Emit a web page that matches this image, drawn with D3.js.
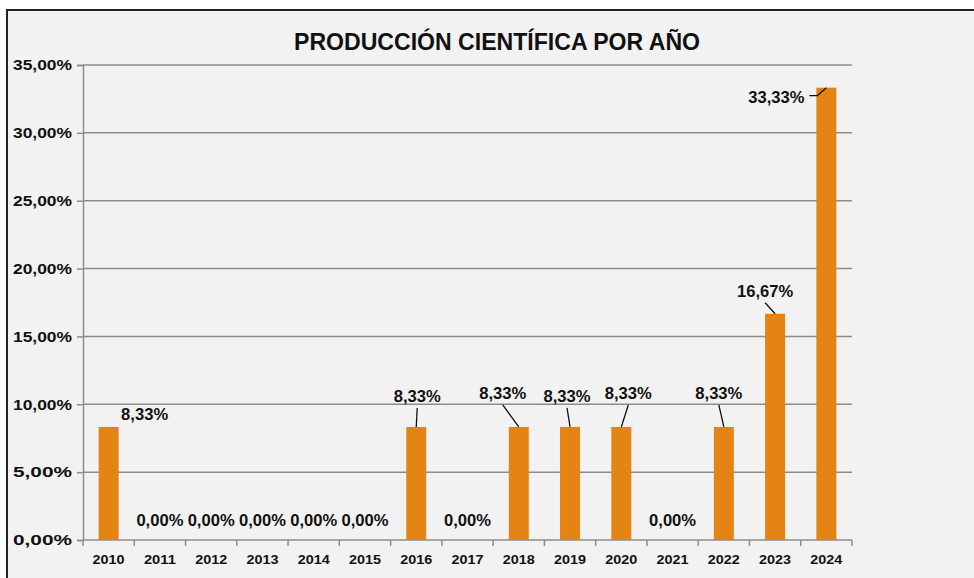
<!DOCTYPE html>
<html>
<head>
<meta charset="utf-8">
<script src="https://cdn.jsdelivr.net/npm/d3@7"></script>
<style>
  body { margin: 0; background: #fff; }
  text { font-family: "Liberation Sans", Arial, sans-serif; font-weight: bold; fill: #111; }
</style>
</head>
<body>
<div id="chart"></div>
<script>
// data
var years = ["2010","2011","2012","2013","2014","2015","2016","2017","2018","2019","2020","2021","2022","2023","2024"];
var values = [8.33, 0, 0, 0, 0, 0, 8.33, 0, 8.33, 8.33, 8.33, 0, 8.33, 16.67, 33.33];
var yTicks = [0, 5, 10, 15, 20, 25, 30, 35];

// where each data label sits, relative to the bar top (pixels); null = default zero label
var labelPlace = [
  {dx: 36, dy: -7, line: false},
  null, null, null, null, null,
  {dx: 1, dy: -25, line: true},
  null,
  {dx: -16, dy: -28, line: true},
  {dx: -3, dy: -25, line: true},
  {dx: 7, dy: -28, line: true},
  null,
  {dx: -5, dy: -28, line: true},
  {dx: -10, dy: -17, line: true},
  {dx: -22, dy: 15, line: true, left: true}
];

var width = 974, height = 578;
var margin = {left: 83, right: 122, top: 65, bottom: 38};

var svg = d3.select("#chart").append("svg")
  .attr("width", width)
  .attr("height", height);

// chart frame
svg.append("rect")
  .attr("x", 7).attr("y", 10)
  .attr("width", 980).attr("height", 590)
  .attr("fill", "#f2f2f2")
  .attr("stroke", "#222")
  .attr("stroke-width", 2);

svg.append("text")
  .attr("x", 497).attr("y", 50)
  .attr("text-anchor", "middle")
  .style("font-size", "24px")
  .attr("textLength", 406)
  .attr("lengthAdjust", "spacingAndGlyphs")
  .text("PRODUCCIÓN CIENTÍFICA POR AÑO");

var x = d3.scaleBand()
  .domain(years)
  .range([margin.left, width - margin.right])
  .paddingInner(0.61)
  .paddingOuter(0.305);

var xAxisScale = d3.scaleBand()
  .domain(years)
  .range([margin.left, width - margin.right]);

var y = d3.scaleLinear()
  .domain([0, 35])
  .range([height - margin.bottom, margin.top]);

var fmt = function(v) { return v.toFixed(2).replace(".", ",") + "%"; };

// gridlines
svg.append("g")
  .selectAll("line")
  .data(yTicks.slice(1))
  .enter().append("line")
  .attr("x1", margin.left).attr("x2", width - margin.right)
  .attr("y1", function(d) { return y(d); })
  .attr("y2", function(d) { return y(d); })
  .attr("stroke", "#8c8c8c")
  .attr("stroke-width", 1.5);

// y axis
var yAxis = svg.append("g")
  .attr("transform", "translate(" + margin.left + ",0)")
  .call(d3.axisLeft(y).tickValues(yTicks).tickFormat(fmt).tickSize(6).tickPadding(5));
yAxis.select(".domain").attr("stroke", "#8c8c8c").attr("stroke-width", 1.5);
yAxis.selectAll(".tick line").attr("stroke", "#8c8c8c").attr("stroke-width", 1.5);
yAxis.selectAll(".tick text")
  .style("font-size", "15px")
  .attr("textLength", 59)
  .attr("lengthAdjust", "spacingAndGlyphs")
  .attr("fill", "#111");

// x axis with ticks at category boundaries
var xg = svg.append("g")
  .attr("transform", "translate(0," + y(0) + ")");
xg.append("line")
  .attr("x1", margin.left).attr("x2", width - margin.right)
  .attr("stroke", "#8c8c8c").attr("stroke-width", 1.5);
xg.selectAll(".bound")
  .data(years.concat(["end"]))
  .enter().append("line")
  .attr("x1", function(d, i) { return i < years.length ? xAxisScale(d) : width - margin.right; })
  .attr("x2", function(d, i) { return i < years.length ? xAxisScale(d) : width - margin.right; })
  .attr("y1", 0).attr("y2", 6)
  .attr("stroke", "#8c8c8c").attr("stroke-width", 1.5);
xg.selectAll(".yl")
  .data(years)
  .enter().append("text")
  .attr("x", function(d) { return xAxisScale(d) + xAxisScale.bandwidth() / 2; })
  .attr("y", 24)
  .attr("text-anchor", "middle")
  .style("font-size", "13px")
  .attr("textLength", 32)
  .attr("lengthAdjust", "spacingAndGlyphs")
  .text(function(d) { return d; });

// bars
svg.append("g")
  .selectAll("rect")
  .data(values)
  .enter().append("rect")
  .attr("x", function(d, i) { return x(years[i]); })
  .attr("width", x.bandwidth())
  .attr("y", function(d) { return y(d); })
  .attr("height", function(d) { return y(0) - y(d); })
  .attr("fill", "#e48414");

// data labels
var labels = svg.append("g");
values.forEach(function(v, i) {
  var cx = x(years[i]) + x.bandwidth() / 2;
  var top = y(v);
  var p = labelPlace[i];
  if (!p) {
    labels.append("text")
      .attr("x", cx).attr("y", y(0) - 14)
      .attr("text-anchor", "middle")
      .style("font-size", "16px")
      .attr("textLength", 47)
      .attr("lengthAdjust", "spacingAndGlyphs")
      .text(fmt(v));
    return;
  }
  var lx = cx + p.dx, ly = top + p.dy;
  labels.append("text")
    .attr("x", lx).attr("y", ly)
    .attr("text-anchor", p.left ? "end" : "middle")
    .style("font-size", "16px")
    .attr("textLength", v >= 10 ? 56 : 47)
    .attr("lengthAdjust", "spacingAndGlyphs")
    .text(fmt(v));
  if (p.line) {
    var pts = p.left
      ? [[lx + 5, ly - 7], [lx + 13, ly - 7], [cx, top]]
      : [[lx, ly + 6], [cx, top]];
    labels.append("polyline")
      .attr("points", pts.map(function(q) { return q.join(","); }).join(" "))
      .attr("fill", "none")
      .attr("stroke", "#111")
      .attr("stroke-width", 1.3);
  }
});
</script>
</body>
</html>
